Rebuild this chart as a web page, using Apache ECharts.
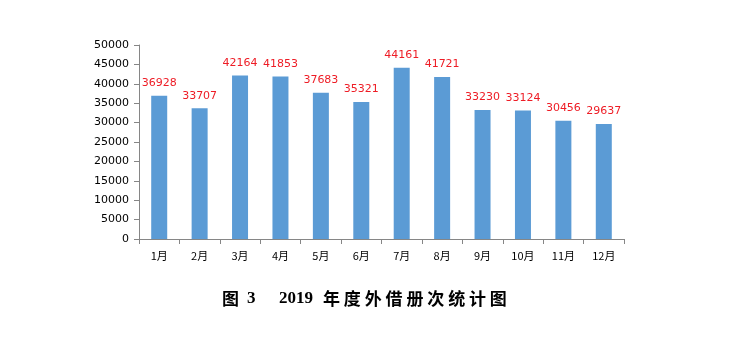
<!DOCTYPE html>
<html><head><meta charset="utf-8">
<script src="https://cdn.jsdelivr.net/npm/echarts@6/dist/echarts.min.js"></script>
<style>html,body{margin:0;padding:0;background:#fff}#c{width:753px;height:345px}</style>
</head><body><div id="c"></div>
<script>
const categories = ['1月','2月','3月','4月','5月','6月','7月','8月','9月','10月','11月','12月'];
const values = [36928,33707,42164,41853,37683,35321,44161,41721,33230,33124,30456,29637];
const titleText = '{g|图}{n|3}{y|2019}{a|年 度 外 借 册 次 统 计 图}';
const chart = echarts.init(document.getElementById('c'));
chart.setOption({
  animation:false,
  backgroundColor:'#fff',
  title:{text:titleText,left:217,top:285,textStyle:{fontSize:17,fontFamily:'Noto Sans CJK SC',fontWeight:'bold',color:'#000',
    rich:{g:{fontFamily:'Noto Sans CJK SC',fontWeight:'bold',fontSize:17,color:'#000',width:25},
          n:{fontFamily:'Liberation Serif',fontWeight:'bold',fontSize:17,color:'#000',width:32},
          y:{fontFamily:'Liberation Serif',fontWeight:'bold',fontSize:17,color:'#000',width:44},
          a:{fontFamily:'Noto Sans CJK SC',fontWeight:'bold',fontSize:17,color:'#000'}}}},
  grid:{left:139,right:129,top:45,bottom:106},
  xAxis:{type:'category',data:categories,
    axisLine:{lineStyle:{color:'#868686'}},
    axisTick:{show:true,length:5,lineStyle:{color:'#868686'}},
    axisLabel:{color:'#000',fontSize:11,margin:11,fontFamily:'Noto Sans CJK SC'}},
  yAxis:{type:'value',min:0,max:50000,interval:5000,
    axisLine:{show:true,lineStyle:{color:'#868686'}},
    axisTick:{show:true,length:5,lineStyle:{color:'#868686'}},
    splitLine:{show:false},
    axisLabel:{color:'#000',fontSize:11,margin:10,fontFamily:'DejaVu Sans',formatter:v=>String(v)}},
  series:[{type:'bar',data:values,barWidth:16,itemStyle:{color:'#5B9BD5'},
    label:{show:true,position:'top',distance:7,color:'#EE1C25',fontSize:11,fontFamily:'DejaVu Sans'}}]
});
</script></body></html>
